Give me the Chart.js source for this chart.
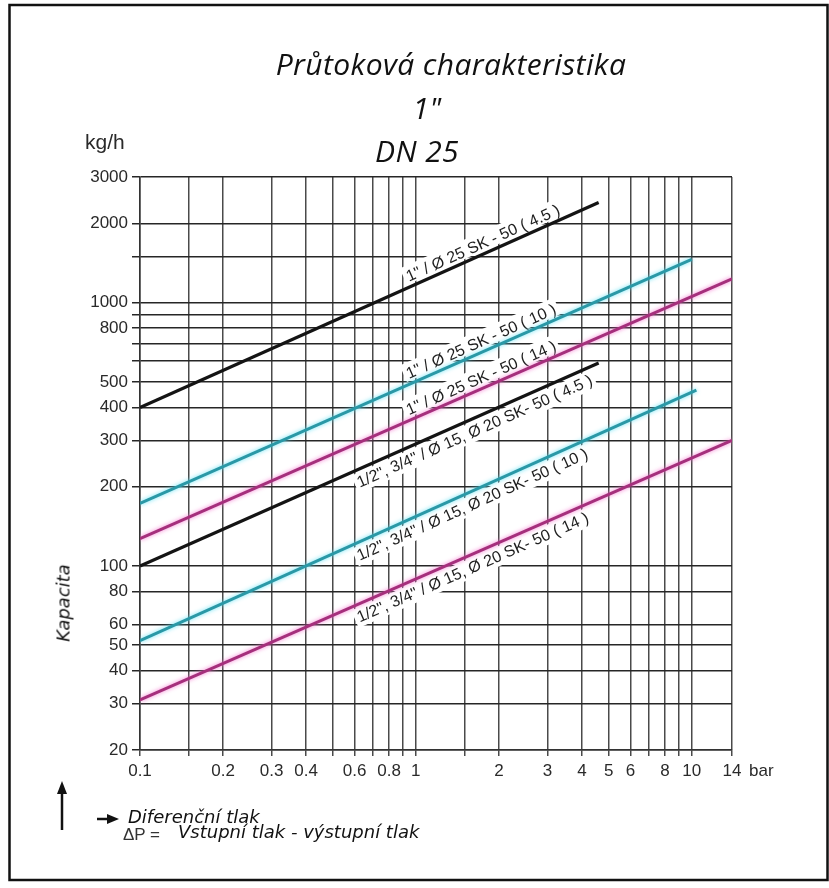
<!DOCTYPE html>
<html>
<head>
<meta charset="utf-8">
<script src="https://cdn.jsdelivr.net/npm/chart.js@4/dist/chart.umd.min.js"></script>
<style>
  body { margin: 0; background: #fff; }
  #wrap { position: relative; width: 829px; height: 888px; }
  #chart { position: absolute; left: 0; top: 0; }
  .t { position: absolute; transform: translate(-50%, -50%); white-space: nowrap; color: #111;
       font-family: "Open Sans", sans-serif; font-style: italic; font-size: 30px; letter-spacing: 0.4px; }
  .n { position: absolute; white-space: nowrap; color: #111; font-family: "DejaVu Sans", sans-serif; font-style: italic; font-size: 18px; }
</style>
</head>
<body>
<div id="wrap">
  <canvas id="chart" width="829" height="888"></canvas>
  <div class="t" style="left:451px;top:63px">Průtoková charakteristika</div>
  <div class="t" style="left:427px;top:107px">1"</div>
  <div class="t" style="left:417px;top:150px">DN 25</div>
  <div class="n" style="left:85px;top:130px;font-size:21px;font-style:normal;color:#2a2a2a;font-family:'Liberation Sans',Arial,sans-serif">kg/h</div>
  <div class="n" style="left:63px;top:603px;transform:translate(-50%,-50%) rotate(-90deg)">Kapacita</div>
  <div class="n" style="left:128px;top:806px">Diferenční tlak</div>
  <div class="n" style="left:123px;top:825px;font-size:17px;font-style:normal;color:#333;font-family:'Liberation Sans',Arial,sans-serif">ΔP =</div>
  <div class="n" style="left:178px;top:821px">Vstupní tlak - výstupní tlak</div>
</div>
<script>
// axis grid / tick values
var xTicks = [0.1, 0.15, 0.2, 0.3, 0.4, 0.5, 0.6, 0.7, 0.8, 0.9, 1, 1.5, 2, 3, 4, 5, 6, 7, 8, 9, 10, 14];
var xLabels = [0.1, 0.2, 0.3, 0.4, 0.6, 0.8, 1, 2, 3, 4, 5, 6, 8, 10, 14];
var yTicks = [20, 30, 40, 50, 60, 80, 100, 200, 300, 400, 500, 600, 700, 800, 900, 1000, 1500, 2000, 3000];
var yLabels = [20, 30, 40, 50, 60, 80, 100, 200, 300, 400, 500, 800, 1000, 2000, 3000];

// series: each line is straight on log-log, so start and end points
var seriesNames = [
  '1" / Ø 25 SK - 50 ( 4.5 )',
  '1" / Ø 25 SK - 50 ( 10 )',
  '1" / Ø 25 SK - 50 ( 14 )',
  '1/2", 3/4" / Ø 15, Ø 20 SK- 50 ( 4.5 )',
  '1/2", 3/4" / Ø 15, Ø 20 SK- 50 ( 10 )',
  '1/2", 3/4" / Ø 15, Ø 20 SK- 50 ( 14 )'
];
var pStart = [0.1, 0.1, 0.1, 0.1, 0.1, 0.1];
var pEnd = [4.6, 10, 14, 4.6, 10.4, 14];
var qStart = [400, 173, 127, 100, 52, 31];
var qEnd = [2400, 1460, 1230, 590, 465, 300];

var lineColors = ['#141414', '#2a98a6', '#a52f7c', '#141414', '#2a98a6', '#a52f7c'];
var glowColors = [null, 'rgba(90,225,245,0.9)', 'rgba(245,110,205,0.9)', null, 'rgba(90,225,245,0.9)', 'rgba(245,110,205,0.9)'];
var labelAt = [0.96, 0.96, 0.96, 0.59, 0.59, 0.59];
var labelSide = ['above', 'above', 'above', 'below', 'below', 'below'];

var FONT = '"Liberation Sans", Arial, sans-serif';

var datasets = seriesNames.map(function(name, i) {
  return {
    label: name,
    data: [{x: pStart[i], y: qStart[i]}, {x: pEnd[i], y: qEnd[i]}],
    borderColor: lineColors[i],
    borderWidth: i % 3 === 0 ? 3.2 : 3,
    glow: glowColors[i],
    pointRadius: 0,
    fill: false
  };
});

var decor = {
  id: 'decor',
  beforeDatasetsDraw: function(chart) {
    var ctx = chart.ctx, xs = chart.scales.x, ys = chart.scales.y;
    chart.data.datasets.forEach(function(ds, i) {
      var a = ds.data[0], b = ds.data[1];
      var x0 = xs.getPixelForValue(a.x), y0 = ys.getPixelForValue(a.y);
      var x1 = xs.getPixelForValue(b.x), y1 = ys.getPixelForValue(b.y);
      var ang = Math.atan2(y1 - y0, x1 - x0);
      var lx = xs.getPixelForValue(labelAt[i]);
      var ly = y0 + (lx - x0) * (y1 - y0) / (x1 - x0);
      ctx.save();
      ctx.translate(lx, ly);
      ctx.rotate(ang);
      ctx.font = '16px ' + FONT;
      var w = ctx.measureText(ds.label).width;
      ctx.fillStyle = '#fff';
      if (labelSide[i] === 'above') {
        ctx.fillRect(-3, -21, w + 6, 18);
        ctx.fillStyle = '#1e1e1e';
        ctx.textBaseline = 'alphabetic';
        ctx.fillText(ds.label, 0, -5);
      } else {
        ctx.fillRect(-3, 3, w + 6, 19);
        ctx.fillStyle = '#1e1e1e';
        ctx.textBaseline = 'top';
        ctx.fillText(ds.label, 0, 5);
      }
      ctx.restore();
    });
  },
  beforeDatasetDraw: function(chart, args) {
    var ds = chart.data.datasets[args.index];
    chart.ctx.save();
    if (ds.glow) {
      chart.ctx.shadowColor = ds.glow;
      chart.ctx.shadowBlur = 4;
    }
  },
  afterDatasetDraw: function(chart) {
    chart.ctx.restore();
  },
  afterDraw: function(chart) {
    var ctx = chart.ctx, xs = chart.scales.x;
    ctx.save();
    // unit after last x tick
    ctx.font = '17px ' + FONT;
    ctx.fillStyle = '#2a2a2a';
    ctx.textBaseline = 'middle';
    ctx.fillText('bar', xs.right + 17, 771);
    // arrows
    ctx.strokeStyle = '#111';
    ctx.fillStyle = '#111';
    ctx.lineWidth = 2.5;
    ctx.beginPath(); ctx.moveTo(62, 830); ctx.lineTo(62, 792); ctx.stroke();
    ctx.beginPath(); ctx.moveTo(62, 781); ctx.lineTo(57, 794); ctx.lineTo(67, 794); ctx.closePath(); ctx.fill();
    ctx.beginPath(); ctx.moveTo(97, 819); ctx.lineTo(110, 819); ctx.stroke();
    ctx.beginPath(); ctx.moveTo(119, 819); ctx.lineTo(107, 814); ctx.lineTo(107, 824); ctx.closePath(); ctx.fill();
    // frame
    ctx.lineWidth = 2.5;
    ctx.strokeRect(9.5, 5, 818, 875);
    ctx.restore();
  }
};

new Chart(document.getElementById('chart').getContext('2d'), {
  type: 'line',
  data: { datasets: datasets },
  options: {
    responsive: false,
    animation: false,
    devicePixelRatio: 1,
    layout: { padding: { top: 177, right: 97, left: 0, bottom: 0 } },
    plugins: { legend: { display: false }, tooltip: { enabled: false } },
    elements: { line: { tension: 0 }, point: { radius: 0 } },
    scales: {
      x: {
        type: 'logarithmic',
        min: 0.1,
        max: 14,
        afterBuildTicks: function(s) { s.ticks = xTicks.map(function(v) { return {value: v}; }); },
        afterFit: function(s) { s.height = 138; },
        ticks: {
          autoSkip: false, maxRotation: 0, minRotation: 0, padding: 5, color: '#2a2a2a',
          font: { family: FONT, size: 17 },
          callback: function(v) { return xLabels.indexOf(v) >= 0 ? String(v) : ''; }
        },
        grid: { color: '#4a4a4a', lineWidth: 1.5, tickLength: 6 },
        border: { color: '#333', width: 1.5 }
      },
      y: {
        type: 'logarithmic',
        min: 20,
        max: 3000,
        afterBuildTicks: function(s) { s.ticks = yTicks.map(function(v) { return {value: v}; }); },
        afterFit: function(s) { s.width = 140; },
        ticks: {
          autoSkip: false, padding: 4, color: '#2a2a2a',
          font: { family: FONT, size: 17 },
          callback: function(v) { return yLabels.indexOf(v) >= 0 ? String(v) : ''; }
        },
        grid: { color: '#262626', lineWidth: 1.5, tickLength: 8 },
        border: { color: '#333', width: 1.5 }
      }
    }
  },
  plugins: [decor]
});
</script>
</body>
</html>
